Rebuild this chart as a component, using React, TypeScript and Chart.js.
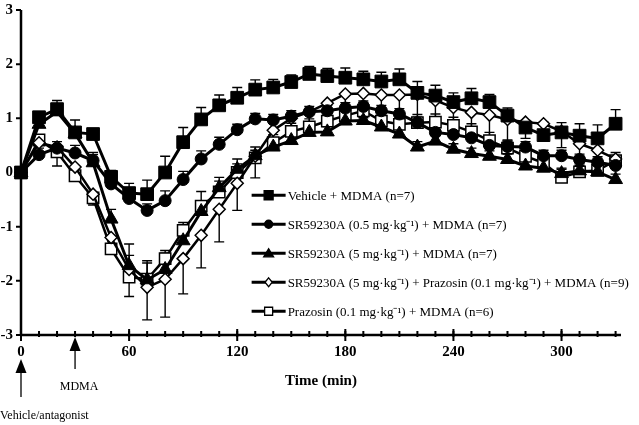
import React, { useEffect, useRef } from "react";
import { Chart, registerables } from "chart.js";
Chart.register(...registerables);

// Time points (min)
const times = [0, 10, 20, 30, 40, 50, 60, 70, 80, 90, 100, 110, 120, 130, 140, 150, 160, 170, 180, 190, 200, 210, 220, 230, 240, 250, 260, 270, 280, 290, 300, 310, 320, 330];

// Series means
const vehicle = [0, 1.02, 1.17, 0.74, 0.71, -0.08, -0.38, -0.40, 0.0, 0.56, 0.98, 1.24, 1.38, 1.53, 1.57, 1.67, 1.82, 1.78, 1.75, 1.72, 1.68, 1.72, 1.47, 1.42, 1.30, 1.37, 1.30, 1.05, 0.83, 0.69, 0.74, 0.68, 0.63, 0.90];
const sr05 = [0, 0.33, 0.45, 0.36, 0.22, -0.21, -0.48, -0.70, -0.52, -0.13, 0.25, 0.52, 0.79, 0.99, 0.97, 1.04, 1.12, 1.14, 1.19, 1.22, 1.14, 1.08, 0.92, 0.74, 0.70, 0.64, 0.50, 0.48, 0.47, 0.31, 0.31, 0.24, 0.19, 0.13];
const sr5 = [0, 0.89, 1.12, 0.72, 0.18, -0.86, -1.72, -1.98, -1.79, -1.26, -0.72, -0.28, 0.06, 0.31, 0.47, 0.59, 0.74, 0.75, 0.95, 0.96, 0.84, 0.71, 0.47, 0.58, 0.43, 0.35, 0.30, 0.24, 0.12, 0.08, -0.02, 0.03, 0.01, -0.13];
const sr5Praz = [0, 0.55, 0.47, 0.10, -0.40, -1.20, -1.79, -2.12, -1.97, -1.59, -1.16, -0.68, -0.20, 0.30, 0.78, 1.00, 1.12, 1.28, 1.45, 1.46, 1.43, 1.43, 1.44, 1.33, 1.20, 1.11, 1.06, 0.98, 0.93, 0.90, 0.76, 0.53, 0.41, 0.25];
const praz = [0, 0.60, 0.38, -0.06, -0.47, -1.41, -1.93, -1.97, -1.59, -1.07, -0.62, -0.36, 0.00, 0.27, 0.55, 0.76, 0.84, 0.95, 1.05, 1.14, 0.95, 0.89, 0.92, 0.93, 0.87, 0.75, 0.59, 0.45, 0.30, 0.18, -0.09, 0.01, 0.04, 0.22];

// SEM values
const vehicleErr = [0, 0.06, 0.16, 0.23, 0.05, 0.12, 0.18, 0.26, 0.3, 0.27, 0.22, 0.19, 0.19, 0.18, 0.15, 0.13, 0.14, 0.14, 0.18, 0.15, 0.17, 0.19, 0.21, 0.19, 0.17, 0.18, 0.14, 0.14, 0.13, 0.24, 0.18, 0.22, 0.25, 0.26];
const sr05Err = [0, 0.05, 0.12, 0.14, 0.15, 0.1, 0.12, 0.12, 0.18, 0.15, 0.15, 0.13, 0.1, 0.1, 0.1, 0.1, 0.1, 0.1, 0.1, 0.1, 0.1, 0.1, 0.1, 0.1, 0.1, 0.1, 0.1, 0.1, 0.1, 0.1, 0.1, 0.1, 0.1, 0.1];
const sr5Err = [0, 0.08, 0.08, 0.1, 0.15, 0.18, 0.4, 0.35, 0.3, 0.3, 0.2, 0.12, 0.1, 0.1, 0.1, 0.1, 0.1, 0.1, 0.1, 0.1, 0.1, 0.1, 0.1, 0.1, 0.1, 0.1, 0.1, 0.1, 0.1, 0.1, 0.1, 0.1, 0.1, 0.1];
const sr5PrazErr = [0, 0.1, 0.35, 0.2, 0.2, 0.3, 0.5, 0.6, 0.7, 0.65, 0.6, 0.6, 0.5, 0.4, 0.35, 0.3, 0.3, 0.35, 0.4, 0.45, 0.45, 0.5, 0.5, 0.6, 0.5, 0.5, 0.45, 0.4, 0.3, 0.3, 0.3, 0.3, 0.2, 0.1];
const prazErr = [0, 0.1, 0.1, 0.1, 0.1, 0.2, 0.4, 0.3, 0.15, 0.15, 0.27, 0.27, 0.25, 0.2, 0.15, 0.15, 0.15, 0.15, 0.15, 0.15, 0.15, 0.15, 0.15, 0.15, 0.15, 0.15, 0.15, 0.15, 0.15, 0.15, 0.15, 0.15, 0.15, 0.15];

const seriesLabels = [
  "Vehicle + MDMA (n=7)",
  "SR59230A (0.5 mg·kg⁻¹) + MDMA (n=7)",
  "SR59230A (5 mg·kg⁻¹) + MDMA (n=7)",
  "SR59230A (5 mg·kg⁻¹) + Prazosin (0.1 mg·kg⁻¹) + MDMA (n=9)",
  "Prazosin (0.1 mg·kg⁻¹) + MDMA (n=6)",
];

const xTicks = [0, 60, 120, 180, 240, 300];
const xMinorTicks = [0, 10, 20, 30, 40, 50, 60, 70, 80, 90, 100, 110, 120, 130, 140, 150, 160, 170, 180, 190, 200, 210, 220, 230, 240, 250, 260, 270, 280, 290, 300, 310, 320, 330];
const yTicks = [-3, -2, -1, 0, 1, 2, 3];
const xTitle = "Time (min)";
const vehicleArrowTime = 0;
const mdmaArrowTime = 30;

const SERIF = "'Liberation Serif', 'Times New Roman', serif";

function drawMarker(ctx: CanvasRenderingContext2D, style: string, x: number, y: number, s: number, filled: boolean) {
  ctx.save();
  ctx.beginPath();
  if (style === "rect") {
    ctx.rect(x - s, y - s, 2 * s, 2 * s);
  } else if (style === "circle") {
    ctx.arc(x, y, s, 0, Math.PI * 2);
  } else if (style === "triangle") {
    ctx.moveTo(x - s * 1.1, y + s * 0.8);
    ctx.lineTo(x, y - s * 1.0);
    ctx.lineTo(x + s * 1.1, y + s * 0.8);
    ctx.closePath();
  } else if (style === "rectRot") {
    ctx.moveTo(x, y - s * 1.1);
    ctx.lineTo(x + s * 0.9, y);
    ctx.lineTo(x, y + s * 1.1);
    ctx.lineTo(x - s * 0.9, y);
    ctx.closePath();
  }
  ctx.fillStyle = filled ? "#000" : "#fff";
  ctx.fill();
  ctx.lineWidth = 1.3;
  ctx.strokeStyle = "#000";
  ctx.stroke();
  ctx.restore();
}

const errorBarPlugin = {
  id: "errorBars",
  beforeDatasetsDraw(chart: any) {
    const ctx = chart.ctx;
    const xs = chart.scales.x;
    const ys = chart.scales.y;
    ctx.save();
    ctx.strokeStyle = "#000";
    ctx.lineWidth = 1.4;
    chart.data.datasets.forEach((ds: any) => {
      const errs: number[] = ds.errors;
      const dir: number = ds.errDir;
      ds.data.forEach((p: any, i: number) => {
        const e = errs[i];
        if (!e) return;
        const px = xs.getPixelForValue(p.x);
        const py = ys.getPixelForValue(p.y);
        const pe = ys.getPixelForValue(p.y + dir * e);
        ctx.beginPath();
        ctx.moveTo(px, py);
        ctx.lineTo(px, pe);
        ctx.moveTo(px - 5, pe);
        ctx.lineTo(px + 5, pe);
        ctx.stroke();
      });
    });
    ctx.restore();
  },
};

const decorPlugin = {
  id: "decor",
  afterDraw(chart: any) {
    const ctx: CanvasRenderingContext2D = chart.ctx;
    const xs = chart.scales.x;
    const ys = chart.scales.y;
    const x0 = xs.getPixelForValue(0);
    const xEnd = xs.right;
    const yBot = ys.getPixelForValue(-3);
    const yTop = ys.getPixelForValue(3);
    ctx.save();
    ctx.strokeStyle = "#000";
    ctx.fillStyle = "#000";
    // axes lines
    ctx.lineWidth = 2.5;
    ctx.beginPath();
    ctx.moveTo(x0, yTop);
    ctx.lineTo(x0, yBot);
    ctx.moveTo(x0, yBot);
    ctx.lineTo(xEnd, yBot);
    ctx.stroke();
    // y ticks
    ctx.lineWidth = 2;
    ctx.beginPath();
    yTicks.forEach((v) => {
      const py = ys.getPixelForValue(v);
      ctx.moveTo(x0 - 5, py);
      ctx.lineTo(x0, py);
    });
    ctx.stroke();
    // x minor ticks
    ctx.beginPath();
    xMinorTicks.forEach((v) => {
      const px = xs.getPixelForValue(v);
      ctx.moveTo(px, yBot - 4);
      ctx.lineTo(px, yBot + 2);
    });
    ctx.stroke();
    // x major ticks
    ctx.beginPath();
    xTicks.forEach((v) => {
      const px = xs.getPixelForValue(v);
      ctx.moveTo(px, yBot - 6);
      ctx.lineTo(px, yBot + 6);
    });
    ctx.stroke();
    // y labels
    ctx.font = `bold 15px ${SERIF}`;
    ctx.textAlign = "right";
    ctx.textBaseline = "middle";
    yTicks.forEach((v) => {
      ctx.fillText(String(v), x0 - 8, ys.getPixelForValue(v));
    });
    // x labels
    ctx.textAlign = "center";
    ctx.textBaseline = "top";
    xTicks.forEach((v) => {
      ctx.fillText(String(v), xs.getPixelForValue(v), yBot + 10);
    });
    // x title
    ctx.font = `bold 15px ${SERIF}`;
    ctx.textBaseline = "middle";
    ctx.fillText(xTitle, (xs.left + xs.right) / 2, yBot + 46);

    // arrows
    const drawArrow = (px: number, tipY: number, endY: number) => {
      ctx.lineWidth = 1.3;
      ctx.beginPath();
      ctx.moveTo(px, tipY + 12);
      ctx.lineTo(px, endY);
      ctx.stroke();
      ctx.beginPath();
      ctx.moveTo(px, tipY);
      ctx.lineTo(px - 5.5, tipY + 14);
      ctx.lineTo(px + 5.5, tipY + 14);
      ctx.closePath();
      ctx.fill();
    };
    const ax0 = xs.getPixelForValue(vehicleArrowTime);
    const ax1 = xs.getPixelForValue(mdmaArrowTime);
    drawArrow(ax0, yBot + 24, yBot + 62);
    drawArrow(ax1, yBot + 2, yBot + 34);
    ctx.font = `12px ${SERIF}`;
    ctx.textAlign = "center";
    ctx.fillText("MDMA", ax1 + 4, yBot + 52);
    ctx.textAlign = "left";
    ctx.fillText("Vehicle/antagonist", 0, yBot + 81);

    // legend
    const lx = xs.getPixelForValue(128);
    const lineLen = 34;
    const rowGap = 29;
    const ly0 = ys.getPixelForValue(-0.42);
    chart.data.datasets.forEach((ds: any, i: number) => {
      const y = ly0 + i * rowGap;
      ctx.lineWidth = 3;
      ctx.beginPath();
      ctx.moveTo(lx, y);
      ctx.lineTo(lx + lineLen, y);
      ctx.stroke();
      drawMarker(ctx, ds.pointStyle, lx + lineLen / 2, y, ds.legendSize, ds.pointBackgroundColor === "#000");
      ctx.fillStyle = "#000";
      ctx.font = `13px ${SERIF}`;
      ctx.textAlign = "left";
      ctx.textBaseline = "middle";
      ctx.fillText(seriesLabels[i], lx + lineLen + 2, y + 1);
    });
    ctx.restore();
  },
};

function mk(values: number[]) {
  return times.map((t, i) => ({ x: t, y: values[i] }));
}

export default function App() {
  const ref = useRef<HTMLCanvasElement>(null);
  useEffect(() => {
    if (!ref.current) return;
    const common = {
      borderColor: "#000",
      pointBorderColor: "#000",
      borderWidth: 3,
      clip: false as any,
      tension: 0,
    };
    const chart = new Chart(ref.current, {
      type: "line",
      data: {
        datasets: [
          { ...common, label: seriesLabels[0], data: mk(vehicle), pointStyle: "rect", pointRadius: 9, pointBackgroundColor: "#000", pointBorderWidth: 1, errors: vehicleErr, errDir: 1, legendSize: 4.5 } as any,
          { ...common, label: seriesLabels[1], data: mk(sr05), pointStyle: "circle", pointRadius: 6, pointBackgroundColor: "#000", pointBorderWidth: 1, errors: sr05Err, errDir: 1, legendSize: 4 } as any,
          { ...common, label: seriesLabels[2], data: mk(sr5), pointStyle: "triangle", pointRadius: 8, pointBackgroundColor: "#000", pointBorderWidth: 1, errors: sr5Err, errDir: 1, legendSize: 4.5 } as any,
          { ...common, label: seriesLabels[3], data: mk(sr5Praz), borderWidth: 2.5, pointStyle: "rectRot", pointRadius: 6, pointBackgroundColor: "#fff", pointBorderWidth: 1.5, errors: sr5PrazErr, errDir: -1, legendSize: 4 } as any,
          { ...common, label: seriesLabels[4], data: mk(praz), borderWidth: 2.5, pointStyle: "rect", pointRadius: 8, pointBackgroundColor: "#fff", pointBorderWidth: 1.5, errors: prazErr, errDir: 1, legendSize: 4 } as any,
        ],
      },
      options: {
        responsive: false,
        animation: false,
        layout: { padding: { left: 21, right: 18, top: 9, bottom: 90 } },
        scales: {
          x: { type: "linear", min: 0, max: 333, display: false },
          y: { type: "linear", min: -3, max: 3, display: false },
        },
        plugins: {
          legend: { display: false },
          tooltip: { enabled: false },
        },
      },
      plugins: [errorBarPlugin, decorPlugin],
    });
    return () => chart.destroy();
  }, []);
  return (
    <div style={{ position: "fixed", left: 0, top: 0, width: 639, height: 425, background: "#fff" }}>
      <canvas ref={ref} width={639} height={425} style={{ width: 639, height: 425, display: "block" }} />
    </div>
  );
}
